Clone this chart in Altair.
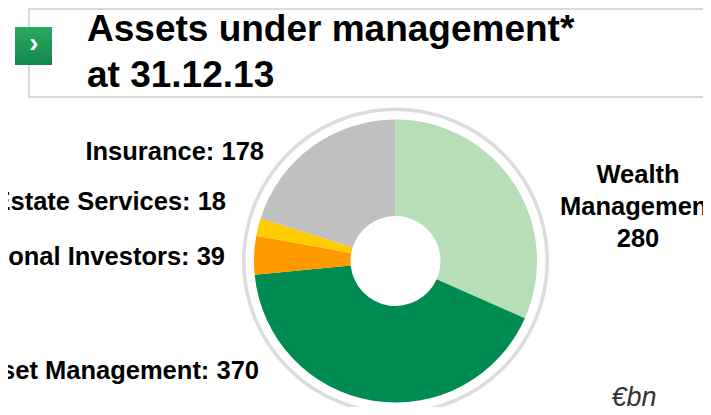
import altair as alt
import pandas as pd

# ---- data ----
categories = ["Wealth Management", "Asset Management", "Institutional Investors",
              "Real Estate Services", "Insurance"]
values = [280, 370, 39, 18, 178]
colors = ["#b8deb8", "#008c50", "#ff9900", "#ffcc00", "#c0c0c0"]
title_lines = ["Assets under management*", "at 31.12.13"]
unit_label = "€bn"

# ---- layout (reference pixel coords; page has an 8px margin) ----
W, H = 695, 399
OFF = 8
def px(x):
    return x - OFF
def py(y):
    return y - OFF

FONT = "Liberation Sans"
CX, CY = px(395.5), py(261)
R_OUT, R_IN = 141.5, 45

label_anchor = {
    "Insurance": (264, 160),
    "Real Estate Services": (226, 210),
    "Institutional Investors": (225, 265),
    "Asset Management": (259, 379),
}
wm_anchor = (638, 183)

df = pd.DataFrame({"category": categories, "value": values,
                   "order": list(range(len(categories)))})

base = alt.Chart(df)

# outer decorative ring
ring = alt.Chart(pd.DataFrame({"a": [0]})).mark_arc(
    theta=0, theta2=6.2832, innerRadius=150, outerRadius=153.5, color="#dcdcdc"
).encode(x=alt.value(CX), y=alt.value(CY))

arcs = base.mark_arc(innerRadius=R_IN, outerRadius=R_OUT).encode(
    theta=alt.Theta("value:Q", stack=True),
    color=alt.Color("category:N", scale=alt.Scale(domain=categories, range=colors), legend=None),
    order=alt.Order("order:Q"),
    x=alt.value(CX), y=alt.value(CY),
)

# left labels
left_rows = []
for c, v in zip(categories, values):
    if c in label_anchor:
        ax, ay = label_anchor[c]
        left_rows.append({"label": f"{c}: {v}", "lx": px(ax), "ly": py(ay)})
left_df = pd.DataFrame(left_rows)
left_text = alt.Chart(left_df).mark_text(
    align="right", baseline="alphabetic", font=FONT, fontSize=25.5, fontWeight="bold", color="#000000"
).encode(
    x=alt.X("lx:Q", scale=None, axis=None),
    y=alt.Y("ly:Q", scale=None, axis=None),
    text="label:N",
)

wm_idx = categories.index("Wealth Management")
wm_df = pd.DataFrame({"label": [f"Wealth\nManagement\n{values[wm_idx]}"],
                      "lx": [px(wm_anchor[0])], "ly": [py(wm_anchor[1])]})
wm_text = alt.Chart(wm_df).mark_text(
    align="center", baseline="alphabetic", font=FONT, fontSize=25.5, fontWeight="bold",
    color="#000000", lineBreak="\n", lineHeight=32
).encode(
    x=alt.X("lx:Q", scale=None, axis=None),
    y=alt.Y("ly:Q", scale=None, axis=None),
    text="label:N",
)

# title box
one = pd.DataFrame({"a": [0]})
title_box = alt.Chart(one).mark_rect(
    fill="#ffffff", stroke="#dadada", strokeWidth=2
).encode(x=alt.value(px(29)), x2=alt.value(W + 20), y=alt.value(1), y2=alt.value(py(97)))

icon = alt.Chart(one).mark_rect(
    color=alt.LinearGradient(gradient="linear", x1=0, y1=0, x2=0, y2=1,
                             stops=[alt.GradientStop(color="#2aa862", offset=0),
                                    alt.GradientStop(color="#11884a", offset=1)])
).encode(x=alt.value(px(15)), x2=alt.value(px(52)), y=alt.value(py(27)), y2=alt.value(py(65)))

chevron = alt.Chart(one).mark_text(
    text="›", font=FONT, fontSize=28, fontWeight="bold", color="#ffffff",
    align="center", baseline="middle"
).encode(x=alt.value(px(34)), y=alt.value(py(44)))

title_df = pd.DataFrame({"t": title_lines, "ly": [py(41), py(87)]})
title_text = alt.Chart(title_df).mark_text(
    align="left", baseline="alphabetic", font=FONT, fontSize=37, fontWeight="bold", color="#000000"
).encode(
    x=alt.value(px(87)),
    y=alt.Y("ly:Q", scale=None, axis=None),
    text="t:N",
)

unit = alt.Chart(one).mark_text(
    text=unit_label, font=FONT, fontSize=27, fontStyle="italic", color="#333333",
    align="center", baseline="alphabetic"
).encode(x=alt.value(px(634)), y=alt.value(py(406)))

chart = alt.layer(
    title_box, icon, chevron, title_text, ring, arcs, left_text, wm_text, unit
).properties(
    width=W, height=H, padding=0, autosize=alt.AutoSizeParams(type="none")
).configure_view(stroke=None)

chart.save("out.html", embed_options={"renderer": "svg", "actions": False})
